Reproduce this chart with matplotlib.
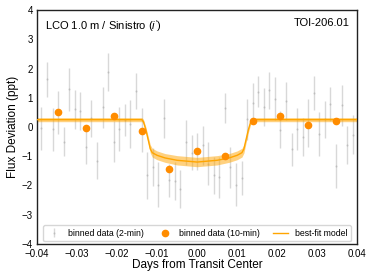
import matplotlib
matplotlib.use("Agg")
import matplotlib.pyplot as plt
import numpy as np

plt.rcParams['font.family'] = ['Liberation Sans', 'DejaVu Sans']
plt.rcParams['mathtext.fontset'] = 'custom'
plt.rcParams['mathtext.it'] = 'Liberation Sans:italic'
plt.rcParams['mathtext.rm'] = 'Liberation Sans'

# 2-min binned data (days from mid-transit, ppt)
t_2min = [-0.03889, -0.03750, -0.03611, -0.03472, -0.03333, -0.03194, -0.03056,
          -0.02917, -0.02778, -0.02639, -0.02500, -0.02361, -0.02222, -0.02083,
          -0.01944, -0.01806, -0.01667, -0.01528, -0.01389, -0.01250, -0.01111,
          -0.00972, -0.00833, -0.00694, -0.00556, -0.00417, -0.00278, -0.00139,
          0.00000, 0.00139, 0.00278, 0.00417, 0.00556, 0.00694, 0.00833,
          0.00972, 0.01111, 0.01250, 0.01389, 0.01528, 0.01667, 0.01806,
          0.01944, 0.02083, 0.02222, 0.02361, 0.02500, 0.02639, 0.02778,
          0.02917, 0.03056, 0.03194, 0.03333, 0.03472, 0.03611, 0.03750, 0.03889]
f_2min = [-0.05, 1.63, -0.08, 0.49, -0.50, 1.29, 0.60, 0.55, -0.67, 0.30, -1.16,
          0.67, 1.87, -0.50, -0.08, 0.24, 0.10, 1.23, -0.10, -1.66, -1.38,
          -1.98, 0.30, -1.83, -1.85, -2.12, -0.52, -0.88, -0.84, -0.62, -1.26,
          -1.66, -1.72, 0.65, -1.38, -1.98, -1.75, 0.26, 0.81, 1.21, 0.70,
          1.26, 0.97, -0.10, 0.90, -0.76, -0.08, -0.35, 0.13, 1.17, -0.24,
          0.26, 0.80, -1.33, 0.74, -0.62, -0.26]
e_2min = [0.74, 0.59, 0.73, 0.73, 0.51, 0.74, 0.67, 0.64, 0.60, 0.63, 0.63,
          0.70, 0.65, 0.70, 0.75, 0.55, 0.82, 0.60, 0.75, 0.79, 0.65,
          0.77, 0.67, 0.57, 0.66, 0.65, 0.77, 0.60, 0.63, 0.67, 0.73,
          0.63, 0.70, 0.52, 0.71, 0.74, 0.57, 0.71, 0.68, 0.54, 0.65,
          0.63, 0.73, 0.63, 0.65, 0.57, 0.72, 0.65, 0.82, 0.59, 0.74,
          0.63, 0.58, 0.75, 0.70, 0.65, 0.67]

# 10-min binned data
t_10min = [-0.03472, -0.02778, -0.02083, -0.01389, -0.00694, 0.0,
           0.00694, 0.01389, 0.02083, 0.02778, 0.03472]
f_10min = [0.50, -0.05, 0.38, -0.15, -1.45, -0.82, -0.98, 0.20, 0.38, 0.07, 0.20]

# best-fit model, with its uncertainty band half-width
t_model = [-0.040, -0.0138, -0.0134, -0.0128, -0.0122, -0.0117, -0.0112,
           -0.0100, -0.0080, -0.0050, 0.0, 0.0050, 0.0080, 0.0100,
           0.0112, 0.0117, 0.0122, 0.0128, 0.0134, 0.0138, 0.040]
f_model = [0.25, 0.25, 0.18, -0.10, -0.45, -0.75, -0.88,
           -0.97, -1.06, -1.14, -1.20, -1.14, -1.06, -0.97,
           -0.88, -0.75, -0.45, -0.10, 0.18, 0.25, 0.25]
band_model = [0.07, 0.07, 0.08, 0.10, 0.12, 0.14, 0.15,
              0.15, 0.15, 0.16, 0.16, 0.16, 0.15, 0.15,
              0.15, 0.14, 0.12, 0.10, 0.08, 0.07, 0.07]

fig = plt.figure(figsize=(3.74, 2.80), dpi=100)
ax = fig.add_axes([0.099, 0.129, 0.856, 0.835])

h_2min = ax.errorbar(t_2min, f_2min, yerr=e_2min, fmt='.', ms=1, color='gray',
                     alpha=0.3, elinewidth=1, zorder=1)
h_10min, = ax.plot(t_10min, f_10min, 'o', ms=4.5, color='darkorange', zorder=4)

fm = np.array(f_model)
bm = np.array(band_model)
ax.fill_between(t_model, fm - bm, fm + bm, color='orange', alpha=0.5, lw=0, zorder=2)
h_model, = ax.plot(t_model, f_model, '-', color='orange', lw=1, zorder=3)

ax.set_xlim(-0.04, 0.04)
ax.set_ylim(-4, 4)
ax.set_xticks(np.arange(-0.04, 0.041, 0.01))
ax.set_xticklabels(['\u22120.04', '\u22120.03', '\u22120.02', '\u22120.01', '0.00',
                    '0.01', '0.02', '0.03', '0.04'])
ax.set_yticks(range(-4, 5))
ax.set_yticklabels(['\u22124', '\u22123', '\u22122', '\u22121', '0', '1', '2', '3', '4'])
ax.tick_params(axis='x', length=0, labelsize=7, pad=3.5)
ax.tick_params(axis='y', length=0, labelsize=7, pad=3)
for s in ax.spines.values():
    s.set_color('#222222')
    s.set_linewidth(1.0)

ax.set_xlabel('Days from Transit Center', fontsize=8.5, labelpad=0.5)
ax.set_ylabel('Flux Deviation (ppt)', fontsize=8.5, labelpad=2)

ax.text(0.025, 0.965, "LCO 1.0 m / Sinistro ($i'$)", transform=ax.transAxes,
        fontsize=8, va='top', ha='left')
ax.text(0.975, 0.965, 'TOI-206.01', transform=ax.transAxes,
        fontsize=8, va='top', ha='right')

ax.legend([h_2min, h_10min, h_model],
          ['binned data (2-min)', 'binned data (10-min)', 'best-fit model'],
          loc='lower center', ncol=3, fontsize=6.3, frameon=True,
          edgecolor='#cccccc', columnspacing=1.5, handlelength=1.7,
          borderaxespad=0.3, handletextpad=0.8)

fig.savefig('out.png', dpi=100)
